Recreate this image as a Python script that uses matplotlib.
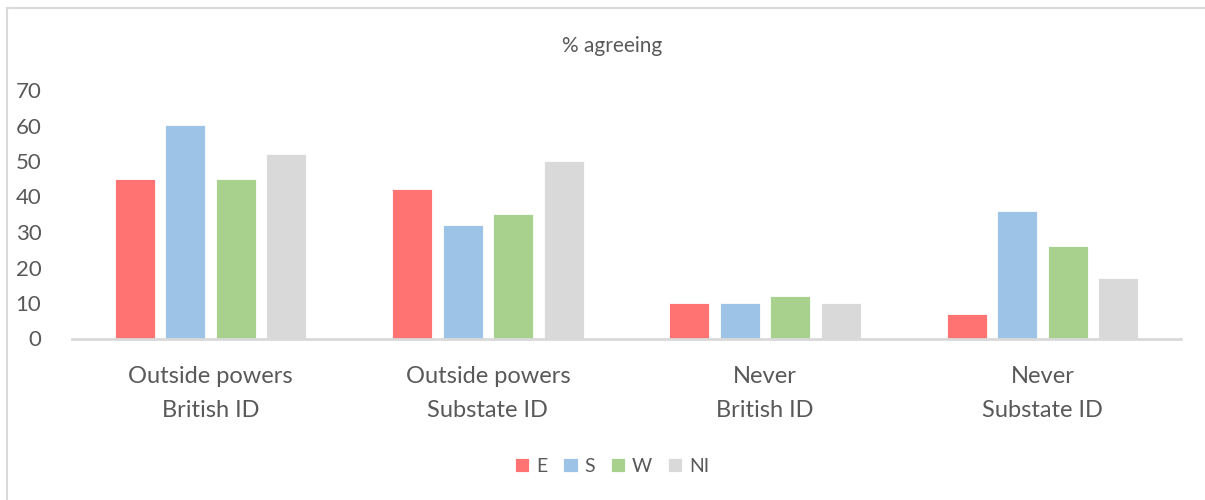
import matplotlib
matplotlib.use("Agg")
import matplotlib.pyplot as plt
import numpy as np
from matplotlib.lines import Line2D

categories = ["Outside powers\nBritish ID", "Outside powers\nSubstate ID",
              "Never\nBritish ID", "Never\nSubstate ID"]
series_names = ["E", "S", "W", "NI"]
e_vals = [45, 42, 10, 7]
s_vals = [60, 32, 10, 36]
w_vals = [45, 35, 12, 26]
ni_vals = [52, 50, 10, 17]
colors = ["#FF7373", "#9DC3E6", "#A9D18E", "#D9D9D9"]
y_ticks = [0, 10, 20, 30, 40, 50, 60, 70]

plt.rcParams['font.family'] = ['Lato', 'DejaVu Sans']
text_col = "#595959"

fig = plt.figure(figsize=(12.05, 5), dpi=100)
ax = fig.add_axes([72 / 1205, 1 - 338.5 / 500, (1181 - 72) / 1205, (338.5 - 90) / 500])

x = np.arange(len(categories))
width = 0.144
step = 0.182
all_vals = [e_vals, s_vals, w_vals, ni_vals]
for i, (name, vals) in enumerate(zip(series_names, all_vals)):
    offs = (i - 1.5) * step
    ax.bar(x + offs, vals, width, color=colors[i], label=name,
           edgecolor="white", linewidth=0.6, zorder=2)

ax.set_xlim(-0.5, len(categories) - 0.5)
ax.set_ylim(0, 70)
ax.set_yticks(y_ticks)
ax.set_xticks(x)
ax.set_xticklabels(categories, fontsize=17, color=text_col, linespacing=1.75)
ax.tick_params(axis="y", length=0, pad=22, labelsize=16, labelcolor=text_col)
ax.tick_params(axis="x", length=0, pad=20)

for side in ["top", "right", "left"]:
    ax.spines[side].set_visible(False)
ax.spines["bottom"].set_color("#D9D9D9")
ax.spines["bottom"].set_linewidth(2)

fig.text(0.508, 1 - 46 / 500, "% agreeing", ha="center", va="center",
         fontsize=15, color=text_col)

leg = fig.legend(loc="center", bbox_to_anchor=(612 / 1205, 1 - 466 / 500), ncol=4,
                 frameon=False, fontsize=14, handlelength=0.75, handleheight=0.75,
                 handletextpad=0.35, columnspacing=0.8)
for t in leg.get_texts():
    t.set_color(text_col)

# chart border (left and top edges visible)
fig.add_artist(Line2D([7.5 / 1205, 7.5 / 1205], [0, 1 - 7.5 / 500],
                      transform=fig.transFigure, color="#D9D9D9", linewidth=1.5))
fig.add_artist(Line2D([7.5 / 1205, 1], [1 - 7.5 / 500, 1 - 7.5 / 500],
                      transform=fig.transFigure, color="#D9D9D9", linewidth=1.5))

fig.savefig("out.png", dpi=100)
